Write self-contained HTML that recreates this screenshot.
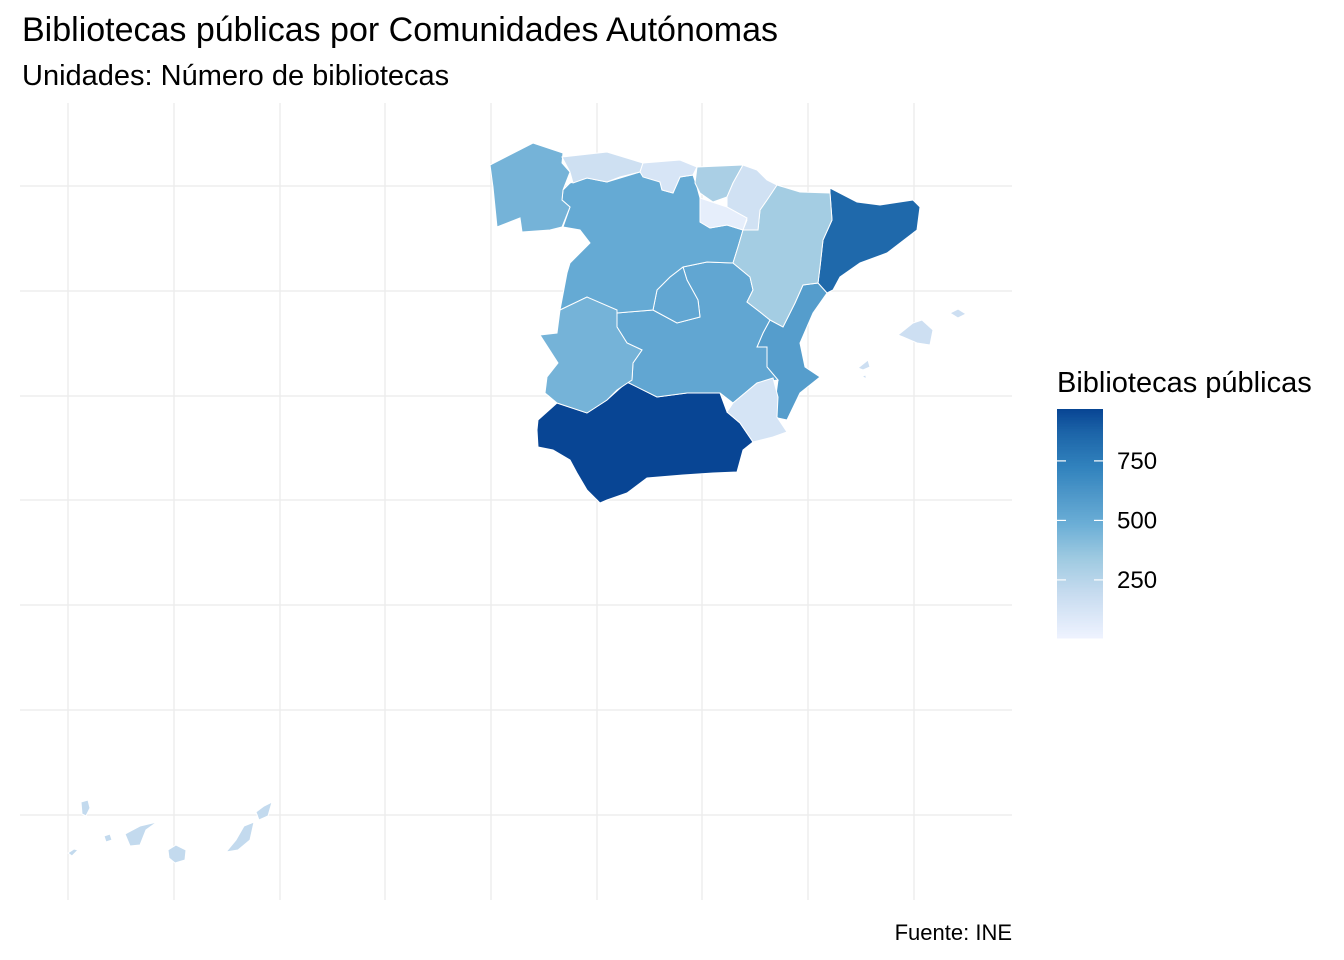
<!DOCTYPE html>
<html><head><meta charset="utf-8"><style>
body{margin:0;background:#fff;}
svg{display:block;font-family:"Liberation Sans",Arial,sans-serif;}
</style></head><body>
<svg id="chart" width="1344" height="960" viewBox="0 0 1344 960">
<text x="22" y="41" font-size="34" fill="#000">Bibliotecas públicas por Comunidades Autónomas</text>
<text x="22" y="85" font-size="29" fill="#000">Unidades: Número de bibliotecas</text>
<g id="grid"></g>
<g id="map"></g>
<g id="legend"></g>
<text x="1012" y="940" font-size="22" text-anchor="end" fill="#000">Fuente: INE</text>
</svg>
<script>
const regions = ["Andalucía","Cataluña","Comunitat Valenciana","Castilla-La Mancha","Madrid","Castilla y León","Galicia","Extremadura","Aragón","País Vasco","Asturias","Cantabria","Navarra","La Rioja","Murcia","Baleares","Canarias"];
const values = [968,850,580,530,530,510,460,460,320,300,160,120,150,50,130,165,210];
const legendTicks = [250,500,750];
const legendTickLabels = ["250","500","750"];
const scaleMin = 6, scaleMax = 968;

const shapes = {
"Galicia":[["490,165 533,143 563,153 562,163 570,172 563,190 562,200 570,207 562,227 550,230 522,232 520,218 497,227 493,187"]],
"Asturias":[["562,157 607,152 643,163 640,172 620,177 607,182 587,178 573,183 570,172"]],
"Cantabria":[["643,163 680,160 697,167 693,175 680,177 673,193 662,190 660,182 643,177 640,172"]],
"País Vasco":[["697,167 743,165 733,183 727,197 713,202 700,193 695,183"]],
"Navarra":[["743,165 757,170 767,180 777,185 767,200 760,210 758,230 743,230 747,220 727,207 727,197 733,183"]],
"La Rioja":[["700,198 727,207 747,218 743,230 727,225 710,228 700,222"]],
"Aragón":[["777,185 800,192 830,193 832,220 823,240 820,267 818,283 803,285 795,303 783,327 770,320 760,312 747,302 753,290 750,277 733,263 738,247 743,230 758,230 760,210 767,200"]],
"Cataluña":[["830,188 857,202 880,205 913,200 920,207 917,230 887,253 860,263 840,277 833,290 827,293 818,283 820,267 823,240 832,220 830,193"]],
"Comunitat Valenciana":[["827,293 813,313 800,343 805,367 820,377 800,393 787,420 773,417 778,380 767,367 767,347 757,347 763,333 770,320 783,327 795,303 803,285 818,283"]],
"Murcia":[["733,403 757,383 773,378 778,397 777,417 787,432 773,437 753,442 740,423 727,412"]],
"Andalucía":[["538,420 557,403 587,413 607,400 627,382 657,397 687,393 720,393 727,412 740,423 753,442 743,450 737,472 713,473 683,475 647,478 627,493 607,500 600,503 587,490 577,473 570,460 553,450 538,447 537,430"]],
"Extremadura":[["560,310 587,297 617,310 617,327 627,343 642,350 633,363 632,380 617,390 607,400 587,413 557,403 545,393 547,377 558,363 540,335 557,333"]],
"Castilla-La Mancha":[["617,313 653,310 677,323 700,317 698,300 687,280 683,267 707,262 733,263 750,277 753,290 747,302 760,312 770,320 763,333 757,347 767,347 767,367 778,380 757,383 733,403 720,393 687,393 657,397 627,382 632,380 633,363 642,350 627,343 617,327"]],
"Madrid":[["653,310 657,290 670,277 683,267 687,280 698,300 700,317 677,323"]],
"Castilla y León":[["570,183 587,178 607,182 640,172 660,182 662,190 673,193 680,177 693,175 697,187 700,198 700,222 710,228 727,225 743,230 738,247 733,263 707,262 683,267 670,277 657,290 653,310 617,313 587,297 560,310 567,273 570,263 590,243 580,230 563,227 570,207 562,200 563,190"]],
"Baleares":[["898,335 913,323 922,320 933,330 930,345 917,343 903,337"],["950,313 958,309 966,314 958,318"],["858,368 868,360 870,367 863,370"],["862,376 866,375 866,379"]],
"Canarias":[["81,802 88,800 90,808 86,816 82,814"],["68,853 74,849 78,850 72,856"],["104,836 110,834 112,840 106,842"],["125,834 140,826 157,822 146,830 140,845 130,846"],["168,850 176,845 186,850 185,860 175,863 169,858"],["226,852 236,840 244,826 254,822 250,840 238,850"],["256,812 264,806 272,802 268,816 259,820"]]
};

const stops = [[0,[239,243,255]],[0.2,[198,219,239]],[0.35,[158,202,225]],[0.5,[107,174,214]],[0.75,[49,130,189]],[0.9,[28,100,168]],[1,[8,69,148]]];
function color(v){
  let t=Math.max(0,Math.min(1,(v-scaleMin)/(scaleMax-scaleMin)));
  for(let i=1;i<stops.length;i++){
    if(t<=stops[i][0]){
      const a=stops[i-1],b=stops[i],f=(t-a[0])/(b[0]-a[0]);
      const c=a[1].map((x,k)=>Math.round(x+(b[1][k]-x)*f));
      return `rgb(${c[0]},${c[1]},${c[2]})`;
    }
  }
  return "rgb(8,69,148)";
}
const NS="http://www.w3.org/2000/svg";
const grid=document.getElementById('grid');
const vx=[68,174,280,385,491,597,702,808,914], hy=[186,291,396,500,605,710,815];
vx.forEach(x=>{const l=document.createElementNS(NS,'line');l.setAttribute('x1',x);l.setAttribute('x2',x);l.setAttribute('y1',103);l.setAttribute('y2',900);l.setAttribute('stroke','#EBEBEB');l.setAttribute('stroke-width','1.3');


grid.appendChild(l);});
hy.forEach(y=>{const l=document.createElementNS(NS,'line');l.setAttribute('x1',20);l.setAttribute('x2',1012);l.setAttribute('y1',y);l.setAttribute('y2',y);l.setAttribute('stroke','#EBEBEB');l.setAttribute('stroke-width','1.3');


grid.appendChild(l);});

const map=document.getElementById('map');
regions.forEach((r,i)=>{
  const g=document.createElementNS(NS,'g');
  
  
  (shapes[r]||[]).forEach(p=>{
    const pg=document.createElementNS(NS,'polygon');
    pg.setAttribute('points',p[0]);
    pg.setAttribute('fill',color(values[i]));
    pg.setAttribute('stroke','#fff');
    pg.setAttribute('stroke-width','1');
    
    
    g.appendChild(pg);
  });
  map.appendChild(g);
});

const leg=document.getElementById('legend');
const lx=1057,ly=409,lw=46,lh=229;
const ly0=ly+lh;
function legY(v){return ly0-(v-scaleMin)/(scaleMax-scaleMin)*lh;}
const t=document.createElementNS(NS,'text');t.setAttribute('x',1057);t.setAttribute('y',392);t.setAttribute('font-size','29');t.textContent='Bibliotecas públicas';


leg.appendChild(t);
for(let k=0;k<lh;k++){
  const rc=document.createElementNS(NS,'rect');
  rc.setAttribute('x',lx);rc.setAttribute('y',ly0-k-1);rc.setAttribute('width',lw);rc.setAttribute('height',1.5);
  rc.setAttribute('fill',color(scaleMin+(k+0.5)/lh*(scaleMax-scaleMin)));
  
  
  leg.appendChild(rc);
}
legendTicks.forEach((v,i)=>{
  const y=legY(v);
  [[lx,lx+9],[lx+lw-9,lx+lw]].forEach(s=>{
    const l=document.createElementNS(NS,'line');l.setAttribute('x1',s[0]);l.setAttribute('x2',s[1]);l.setAttribute('y1',y);l.setAttribute('y2',y);l.setAttribute('stroke','#fff');l.setAttribute('stroke-width','1.2');
    
    
    leg.appendChild(l);
  });
  const tx=document.createElementNS(NS,'text');tx.setAttribute('x',1117);tx.setAttribute('y',y+8);tx.setAttribute('font-size','24');tx.textContent=legendTickLabels[i];
  
  
  leg.appendChild(tx);
});
</script>
</body></html>
